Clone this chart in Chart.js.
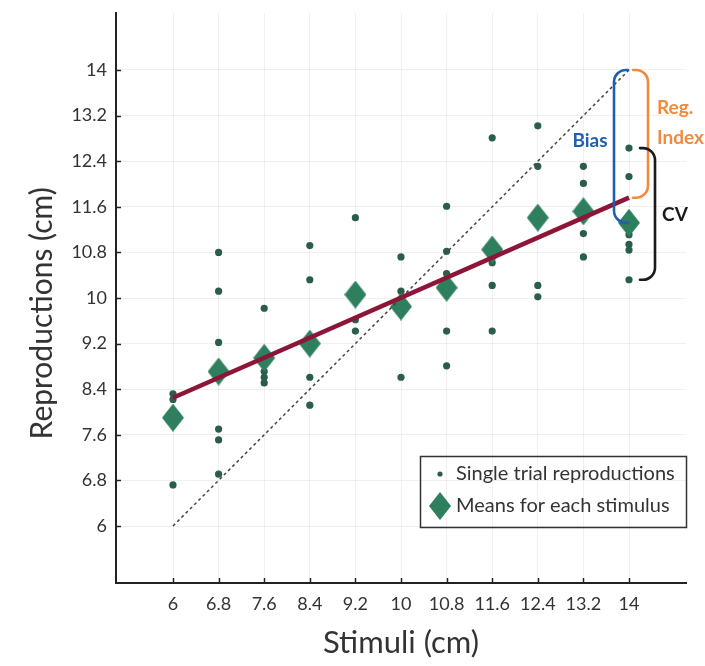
<!DOCTYPE html>
<html><head><meta charset="utf-8">
<script src="https://cdn.jsdelivr.net/npm/chart.js@4"></script>
<style>html,body{margin:0;padding:0;background:#fff;}#wrap{width:705px;height:666px;}</style>
</head><body><div id="wrap"><canvas id="c" width="705" height="666"></canvas></div>
<script>
// ---- data ----
const stimuli = [6, 6.8, 7.6, 8.4, 9.2, 10, 10.8, 11.6, 12.4, 13.2, 14];
const meanReproductions = [7.9, 8.71, 8.95, 9.2, 10.06, 9.85, 10.18, 10.85, 11.41, 11.52, 11.32];
const trialReproductions = [
  [8.32, 8.22, 6.72],
  [10.8, 10.12, 9.22, 7.7, 7.51, 6.91],
  [9.82, 8.71, 8.61, 8.51],
  [10.92, 10.32, 8.61, 8.12],
  [11.41, 9.62, 9.42],
  [10.72, 10.12, 8.61],
  [11.61, 10.82, 10.43, 9.42, 8.81],
  [12.81, 10.62, 10.22, 9.42],
  [13.02, 12.31, 10.22, 10.02],
  [12.31, 12.01, 11.13, 10.72],
  [12.63, 12.13, 11.11, 10.94, 10.84, 10.32]
];
const regressionEnds = [8.25, 11.76];   // fitted reproduction at first / last stimulus
const identityEnds = [6, 14];
const xTickLabels = ['6', '6.8', '7.6', '8.4', '9.2', '10', '10.8', '11.6', '12.4', '13.2', '14'];
const yTickLabels = ['6', '6.8', '7.6', '8.4', '9.2', '10', '10.8', '11.6', '12.4', '13.2', '14'];
const legendLabels = ['Single trial reproductions', 'Means for each stimulus'];

// ---- styles ----
const FONT = 'Lato';
const DOT_COLOR = '#2b5d4c';
const DIAMOND_COLOR = '#2e7f5e';

function makeDot(r, color) {
  const c = document.createElement('canvas');
  c.width = c.height = Math.ceil(r * 2 + 2);
  const g = c.getContext('2d');
  g.fillStyle = color;
  g.beginPath(); g.arc(c.width / 2, c.height / 2, r, 0, Math.PI * 2); g.fill();
  return c;
}
function makeDiamond(w, h, color) {
  const c = document.createElement('canvas');
  c.width = w; c.height = h;
  const g = c.getContext('2d');
  g.fillStyle = color;
  g.beginPath(); g.moveTo(w / 2, 0); g.lineTo(w, h / 2); g.lineTo(w / 2, h); g.lineTo(0, h / 2); g.closePath(); g.fill();
  return c;
}
const diamondImg = makeDiamond(22, 28, DIAMOND_COLOR);
const legendDot = makeDot(2.6, DOT_COLOR);

const trialPoints = stimuli.flatMap((s, i) => trialReproductions[i].map(v => ({x: s, y: v})));
const meanPoints = stimuli.map((s, i) => ({x: s, y: meanReproductions[i]}));
const first = stimuli[0], last = stimuli[stimuli.length - 1];

function bracket(ctx, xs, xv, yt, yb, r, color) {
  ctx.save();
  ctx.strokeStyle = color; ctx.lineWidth = 2.6; ctx.lineCap = 'round';
  ctx.beginPath();
  ctx.moveTo(xs, yt);
  ctx.arcTo(xv, yt, xv, yt + r, r);
  ctx.lineTo(xv, yb - r);
  ctx.arcTo(xv, yb, xs, yb, r);
  ctx.lineTo(xs, yb);
  ctx.stroke();
  ctx.restore();
}

const annot = {
  id: 'annot',
  afterLayout(chart) {
    const lg = chart.legend;
    const w = lg.width, h = lg.height;
    lg.left = 422; lg.top = 452; lg.right = lg.left + w; lg.bottom = lg.top + h;
  },
  beforeDatasetsDraw(chart) {
    const {ctx, scales: {x, y}, chartArea: a} = chart;
    ctx.save();
    ctx.strokeStyle = '#222'; ctx.lineWidth = 1.5;
    x.ticks.forEach(t => { const p = Math.round(x.getPixelForValue(t.value)) + 0.5; ctx.beginPath(); ctx.moveTo(p, a.bottom); ctx.lineTo(p, a.bottom - 5); ctx.stroke(); });
    y.ticks.forEach(t => { const p = Math.round(y.getPixelForValue(t.value)) + 0.5; ctx.beginPath(); ctx.moveTo(a.left, p); ctx.lineTo(a.left + 5, p); ctx.stroke(); });
    ctx.restore();
  },
  afterDatasetsDraw(chart) {
    const {ctx, scales: {x, y}} = chart;
    const n = stimuli.length - 1;
    const px = x.getPixelForValue(stimuli[n]);
    const lastTrials = trialReproductions[n];
    // Bias: identity -> mean
    bracket(ctx, px - 1, px - 15, y.getPixelForValue(identityEnds[1]), y.getPixelForValue(meanReproductions[n]), 12, '#1f5fae');
    // Regression index: identity -> regression
    bracket(ctx, px + 4, px + 19, y.getPixelForValue(identityEnds[1]), y.getPixelForValue(regressionEnds[1]), 12, '#f28a3c');
    // CV: spread of trials
    bracket(ctx, px + 11, px + 26, y.getPixelForValue(Math.max(...lastTrials)), y.getPixelForValue(Math.min(...lastTrials)), 12, '#1a1a1a');
    ctx.save();
    ctx.font = 'bold 19px ' + FONT;
    ctx.textBaseline = 'middle';
    ctx.textAlign = 'center';
    ctx.fillStyle = '#1f5fae';
    ctx.fillText('Bias', px - 39, 141);
    ctx.textAlign = 'left';
    ctx.fillStyle = '#f28a3c';
    ctx.fillText('Reg.', px + 28, 108);
    ctx.fillText('Index', px + 28, 138);
    ctx.fillStyle = '#1a1a1a';
    ctx.textAlign = 'center';
    ctx.fillText('CV', px + 46, 215);
    ctx.restore();
  },
  afterDraw(chart) {
    const ctx = chart.ctx;
    ctx.save();
    ctx.strokeStyle = '#333'; ctx.lineWidth = 1.5;
    ctx.strokeRect(420.5, 456.5, 266, 71);
    ctx.restore();
  }
};

new Chart(document.getElementById('c'), {
  data: {
    datasets: [
      {type: 'scatter', label: legendLabels[0], data: trialPoints, pointRadius: 3.6, pointHoverRadius: 3.6,
       backgroundColor: DOT_COLOR, borderWidth: 0, order: 4},
      {type: 'scatter', label: legendLabels[1], data: meanPoints, pointStyle: diamondImg,
       backgroundColor: DIAMOND_COLOR, order: 3},
      {type: 'line', label: 'identity', data: [{x: first, y: identityEnds[0]}, {x: last, y: identityEnds[1]}],
       borderColor: '#444', borderWidth: 1.5, borderDash: [3, 3], pointRadius: 0, fill: false, order: 2},
      {type: 'line', label: 'regression', data: [{x: first, y: regressionEnds[0]}, {x: last, y: regressionEnds[1]}],
       borderColor: '#8c1538', borderWidth: 4.5, pointRadius: 0, fill: false, order: 1}
    ]
  },
  options: {
    responsive: false,
    animation: false,
    events: [],
    layout: {padding: {left: 0, right: 19, top: 13, bottom: 0}},
    plugins: {
      tooltip: {enabled: false},
      legend: {
        position: 'chartArea',
        align: 'start',
        labels: {
          usePointStyle: true,
          boxWidth: 12,
          padding: 12,
          color: '#333',
          font: {family: FONT, size: 20},
          generateLabels: () => [
            {text: legendLabels[0], pointStyle: legendDot, fillStyle: DOT_COLOR, strokeStyle: DOT_COLOR, lineWidth: 0, hidden: false, datasetIndex: 0, fontColor: '#333'},
            {text: legendLabels[1], pointStyle: diamondImg, fillStyle: DIAMOND_COLOR, strokeStyle: DIAMOND_COLOR, lineWidth: 0, hidden: false, datasetIndex: 1, fontColor: '#333'}
          ]
        }
      }
    },
    scales: {
      x: {
        type: 'linear', min: 5, max: 15,
        afterBuildTicks: s => { s.ticks = stimuli.map(v => ({value: v})); },
        afterFit: s => { s.height = 83; s.paddingLeft = 0; s.paddingRight = 0; },
        ticks: {autoSkip: false, maxRotation: 0, padding: 10, color: '#333', font: {family: FONT, size: 18},
                callback: (v, i) => xTickLabels[i]},
        grid: {color: 'rgba(0,0,0,0.06)', drawTicks: false},
        border: {color: '#222', width: 2},
        title: {display: true, text: 'Stimuli (cm)', color: '#333', font: {family: FONT, size: 31}, padding: {top: 0, bottom: 4}}
      },
      y: {
        type: 'linear', min: 5, max: 15,
        afterBuildTicks: s => { s.ticks = yTickLabels.map(v => ({value: parseFloat(v)})); },
        afterFit: s => { s.width = 116; s.paddingTop = 0; s.paddingBottom = 0; },
        ticks: {autoSkip: false, padding: 9, color: '#333', font: {family: FONT, size: 18},
                callback: (v, i) => yTickLabels[i]},
        grid: {color: 'rgba(0,0,0,0.06)', drawTicks: false},
        border: {color: '#222', width: 2},
        title: {display: true, text: 'Reproductions (cm)    ', color: '#333', font: {family: FONT, size: 30}, padding: {top: 24, bottom: 0}}
      }
    }
  },
  plugins: [annot]
});
</script></body></html>
